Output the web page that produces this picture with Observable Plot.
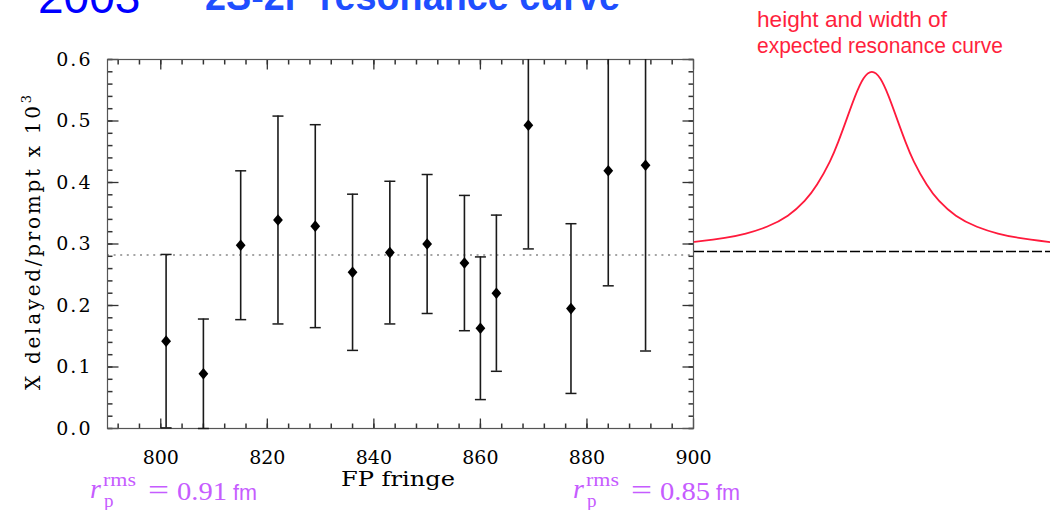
<!DOCTYPE html>
<html><head><meta charset="utf-8">
<script src="https://cdn.jsdelivr.net/npm/d3@7"></script>
<script src="https://cdn.jsdelivr.net/npm/@observablehq/plot@0.6"></script>
<style>
html,body{margin:0;padding:0;background:#fff;}
#wrap{position:relative;width:1050px;height:510px;overflow:hidden;background:#fff;}
#wrap > svg{position:absolute;top:0;}
[aria-label="y-axis tick label"] text{letter-spacing:2px;}
</style></head><body><div id="wrap"></div>
<script>
// ---- data ----
const fringe = [801, 808, 815, 822, 829, 836, 843, 850, 857, 860, 863, 869, 877, 884, 891];
const ratio  = [0.142, 0.089, 0.298, 0.339, 0.329, 0.254, 0.286, 0.300, 0.269, 0.163, 0.220, 0.493, 0.195, 0.419, 0.428];
const err    = [0.141, 0.089, 0.121, 0.169, 0.165, 0.127, 0.116, 0.113, 0.110, 0.116, 0.127, 0.201, 0.138, 0.187, 0.302];
const meanLevel = 0.282;
const xTicks = [800, 820, 840, 860, 880, 900];
const yTicks = [0.0, 0.1, 0.2, 0.3, 0.4, 0.5, 0.6];
const xMinor = d3.range(792, 900, 4);
const yMinor = d3.range(0, 0.601, 0.02);
// expected resonance curve (detuning in line widths, height in same units as ratio)
const detuning = [-4.22, -3.5, -3, -2.5, -2, -1.6, -1.3, -1, -0.8, -0.6, -0.4, -0.2, 0, 0.2, 0.4, 0.6, 0.8, 1, 1.3, 1.6, 2, 2.5, 3, 3.5, 4.25];
const expected = [0.3035, 0.310, 0.317, 0.328, 0.346, 0.370, 0.397, 0.434, 0.466, 0.503, 0.540, 0.569, 0.580, 0.569, 0.540, 0.503, 0.466, 0.434, 0.397, 0.370, 0.346, 0.328, 0.317, 0.310, 0.303];
const expectedBaseline = 0.288;

// ---- build ----
const pts = fringe.map((f, i) => ({f, v: ratio[i], lo: ratio[i] - err[i], hi: ratio[i] + err[i]}));
const caps = pts.flatMap(d => [{f: d.f, y: Math.max(0, d.lo)}, {f: d.f, y: d.hi}]).filter(d => d.y <= 0.6);
const curve = detuning.map((u, i) => ({u, h: expected[i]}));

const seg = (dx, dy) => ({draw(ctx) { ctx.moveTo(0, 0); ctx.lineTo(dx, dy); }});
const capSym = {draw(ctx) { ctx.moveTo(-5.5, 0); ctx.lineTo(5.5, 0); }};
const diamond = {draw(ctx) { ctx.moveTo(0, -5.8); ctx.lineTo(4.9, 0); ctx.lineTo(0, 5.8); ctx.lineTo(-4.9, 0); ctx.closePath(); }};
const tk = "#333";

const W = 700, H = 510, MT = 59, MB = 82;
const main = Plot.plot({
  width: W, height: H, marginTop: MT, marginBottom: MB, marginLeft: 107, marginRight: 7,
  style: {fontFamily: "DejaVu Serif", fontSize: "19px", background: "transparent", overflow: "visible", color: "#000"},
  x: {domain: [790, 900], label: null},
  y: {domain: [0, 0.6], label: null},
  marks: [
    Plot.ruleY([meanLevel], {stroke: "#888", strokeWidth: 1.5, strokeDasharray: "2,4.6"}),
    // ticks (inward)
    Plot.dot(yMinor, {y: d => d, frameAnchor: "left", symbol: seg(5, 0), stroke: tk, fill: "none"}),
    Plot.dot(yTicks, {y: d => d, frameAnchor: "left", symbol: seg(11, 0), stroke: tk, fill: "none", strokeWidth: 1.3}),
    Plot.dot(yMinor, {y: d => d, frameAnchor: "right", symbol: seg(-5, 0), stroke: tk, fill: "none"}),
    Plot.dot(yTicks, {y: d => d, frameAnchor: "right", symbol: seg(-11, 0), stroke: tk, fill: "none", strokeWidth: 1.3}),
    Plot.dot(xMinor, {x: d => d, frameAnchor: "bottom", symbol: seg(0, -5), stroke: tk, fill: "none"}),
    Plot.dot(xTicks, {x: d => d, frameAnchor: "bottom", symbol: seg(0, -10), stroke: tk, fill: "none", strokeWidth: 1.3}),
    Plot.dot(xMinor, {x: d => d, frameAnchor: "top", symbol: seg(0, 5), stroke: tk, fill: "none"}),
    Plot.dot(xTicks, {x: d => d, frameAnchor: "top", symbol: seg(0, 10), stroke: tk, fill: "none", strokeWidth: 1.3}),
    Plot.axisX(xTicks, {anchor: "bottom", tickSize: 0, tickPadding: 22, fontSize: 19, tickFormat: d => String(d), label: null}),
    Plot.axisY(yTicks, {anchor: "left", tickSize: 0, tickPadding: 15, fontSize: 19, tickFormat: d3.format(".1f"), label: null}),
    Plot.frame({stroke: "#555", strokeWidth: 1.2}),
    // error bars
    Plot.ruleX(pts, {x: "f", y1: d => Math.max(0, d.lo), y2: d => Math.min(0.6, d.hi), stroke: "#1a1a1a", strokeWidth: 1.6}),
    Plot.dot(caps, {x: "f", y: "y", symbol: capSym, stroke: "#1a1a1a", strokeWidth: 1.5, fill: "none"}),
    Plot.dot(pts, {x: "f", y: "v", symbol: diamond, fill: "#000", stroke: "none"})
  ]
});
main.style.left = "0px";

const res = Plot.plot({
  width: 357, height: H, marginTop: MT, marginBottom: MB, marginLeft: 1, marginRight: 0,
  style: {background: "transparent", overflow: "visible"},
  x: {domain: [-4.22, 4.25], axis: null},
  y: {domain: [0, 0.6], axis: null},
  marks: [
    Plot.ruleY([expectedBaseline], {stroke: "#000", strokeWidth: 1.5, strokeDasharray: "10,3"}),
    Plot.line(curve, {x: "u", y: "h", stroke: "#ff1a3c", strokeWidth: 1.8, curve: "natural"})
  ]
});
res.style.left = "693px";

const wrap = document.getElementById("wrap");
wrap.appendChild(main);
wrap.appendChild(res);

// text overlay
const ov = d3.create("svg").attr("width", 1050).attr("height", 510).style("left", "0px");
const t = (x, y, str, o = {}) => {
  const e = ov.append("text").attr("x", x).attr("y", y).text(str)
    .attr("font-family", o.ff || "Liberation Sans").attr("font-size", o.fs || 20).attr("fill", o.fill || "#000");
  if (o.italic) e.attr("font-style", "italic");
  if (o.len) e.attr("textLength", o.len).attr("lengthAdjust", "spacingAndGlyphs");
  if (o.weight) e.attr("font-weight", o.weight);
  return e;
};
t(38, 12.5, "2003", {fs: 46, fill: "#0000ff"});
t(205, 9.5, "2S-2P resonance curve", {fs: 40, fill: "#1f4fff", len: 415, weight: "bold"});
t(757, 27, "height and width of", {fs: 22, fill: "#ff1f3d", len: 190});
t(757, 53, "expected resonance curve", {fs: 22, fill: "#ff1f3d", len: 246});
// y label
const yl = ov.append("text").attr("transform", "translate(40,390) rotate(-90)")
  .attr("font-family", "DejaVu Serif").attr("font-size", 20).attr("fill", "#000")
  .attr("textLength", 295).attr("lengthAdjust", "spacing");
yl.append("tspan").text("X delayed/prompt x 10");
yl.append("tspan").attr("dy", -9).attr("font-size", 13).text("3");
t(341, 486, "FP fringe", {ff: "DejaVu Serif", fs: 20, len: 114});
// radius annotations
const mag = "#c65cff";
const radius = (x0, val) => {
  t(x0, 498, "r", {ff: "Liberation Serif", fs: 28, italic: true, fill: mag});
  t(x0 + 13, 486, "rms", {ff: "Liberation Serif", fs: 19, fill: mag, len: 33});
  t(x0 + 14, 507, "p", {ff: "Liberation Serif", fs: 19, fill: mag});
  t(x0 + 58, 500, "=", {ff: "Liberation Serif", fs: 30, fill: mag, len: 21});
  t(x0 + 87, 500, val, {ff: "Liberation Serif", fs: 26, fill: mag, len: 50});
  t(x0 + 143, 500, "fm", {ff: "Liberation Sans", fs: 22, fill: mag, len: 24});
};
radius(90, "0.91");
radius(573, "0.85");
wrap.appendChild(ov.node());
</script></body></html>
